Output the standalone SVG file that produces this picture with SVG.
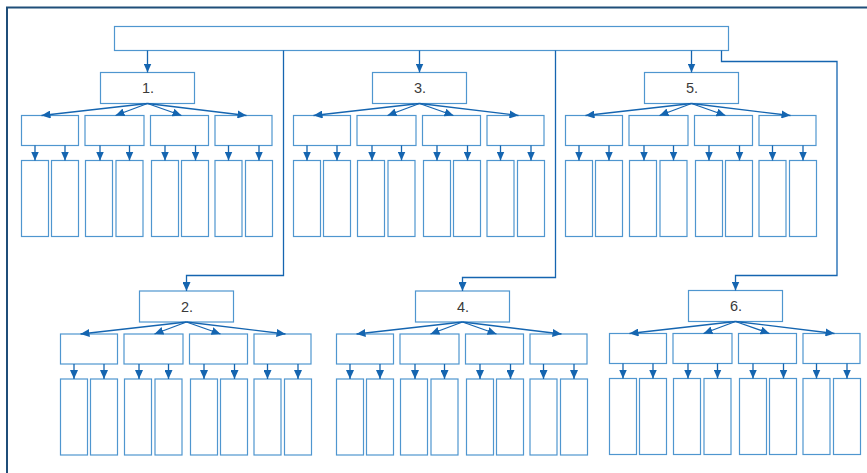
<svg xmlns="http://www.w3.org/2000/svg" width="867" height="473" viewBox="0 0 867 473">
<defs>
<style>
.node rect{fill:#fff;stroke:#4f96cf;stroke-width:1.2}
.node text{font-family:"Liberation Sans",Arial,sans-serif;font-size:14.5px;fill:#3a3a3a;text-anchor:middle}
.conn path{fill:none;stroke:#1565b0;stroke-width:1.3}
.arr{marker-end:url(#ah)}
</style>
<marker id="ah" viewBox="0 0 9 8" refX="9" refY="4" markerWidth="9" markerHeight="8" markerUnits="userSpaceOnUse" orient="auto"><path d="M0,0 L9,4 L0,8 z" fill="#1565b0"/></marker>
</defs>
<rect width="867" height="473" fill="#fff"/>
<path d="M7,473 V7.5 H867" fill="none" stroke="#1f4e79" stroke-width="2"/>

<g id="nodes">
<g id="root" class="node"><rect x="114.5" y="26.5" width="614" height="24"/></g>

<g id="tree1" transform="translate(0,0)">
<g id="t1-head" class="node"><rect x="100.5" y="72.5" width="94" height="31"/><text x="148" y="93">1.</text></g>
<g id="t1-a" class="node"><rect x="21.5" y="115.5" width="57" height="30"/></g>
<g id="t1-b" class="node"><rect x="85" y="115.5" width="59" height="30"/></g>
<g id="t1-c" class="node"><rect x="150.5" y="115.5" width="58" height="30"/></g>
<g id="t1-d" class="node"><rect x="215" y="115.5" width="57" height="30"/></g>
<g id="t1-a1" class="node"><rect x="21.5" y="160.5" width="27" height="76"/></g>
<g id="t1-a2" class="node"><rect x="51.5" y="160.5" width="27" height="76"/></g>
<g id="t1-b1" class="node"><rect x="85.5" y="160.5" width="27" height="76"/></g>
<g id="t1-b2" class="node"><rect x="116" y="160.5" width="27" height="76"/></g>
<g id="t1-c1" class="node"><rect x="151.5" y="160.5" width="27" height="76"/></g>
<g id="t1-c2" class="node"><rect x="181.5" y="160.5" width="27" height="76"/></g>
<g id="t1-d1" class="node"><rect x="215" y="160.5" width="27" height="76"/></g>
<g id="t1-d2" class="node"><rect x="245.5" y="160.5" width="27" height="76"/></g>
</g>

<g id="tree3" transform="translate(272,0)">
<g id="t3-head" class="node"><rect x="100.5" y="72.5" width="94" height="31"/><text x="148" y="93">3.</text></g>
<g id="t3-a" class="node"><rect x="21.5" y="115.5" width="57" height="30"/></g>
<g id="t3-b" class="node"><rect x="85" y="115.5" width="59" height="30"/></g>
<g id="t3-c" class="node"><rect x="150.5" y="115.5" width="58" height="30"/></g>
<g id="t3-d" class="node"><rect x="215" y="115.5" width="57" height="30"/></g>
<g id="t3-a1" class="node"><rect x="21.5" y="160.5" width="27" height="76"/></g>
<g id="t3-a2" class="node"><rect x="51.5" y="160.5" width="27" height="76"/></g>
<g id="t3-b1" class="node"><rect x="85.5" y="160.5" width="27" height="76"/></g>
<g id="t3-b2" class="node"><rect x="116" y="160.5" width="27" height="76"/></g>
<g id="t3-c1" class="node"><rect x="151.5" y="160.5" width="27" height="76"/></g>
<g id="t3-c2" class="node"><rect x="181.5" y="160.5" width="27" height="76"/></g>
<g id="t3-d1" class="node"><rect x="215" y="160.5" width="27" height="76"/></g>
<g id="t3-d2" class="node"><rect x="245.5" y="160.5" width="27" height="76"/></g>
</g>

<g id="tree5" transform="translate(544,0)">
<g id="t5-head" class="node"><rect x="100.5" y="72.5" width="94" height="31"/><text x="148" y="93">5.</text></g>
<g id="t5-a" class="node"><rect x="21.5" y="115.5" width="57" height="30"/></g>
<g id="t5-b" class="node"><rect x="85" y="115.5" width="59" height="30"/></g>
<g id="t5-c" class="node"><rect x="150.5" y="115.5" width="58" height="30"/></g>
<g id="t5-d" class="node"><rect x="215" y="115.5" width="57" height="30"/></g>
<g id="t5-a1" class="node"><rect x="21.5" y="160.5" width="27" height="76"/></g>
<g id="t5-a2" class="node"><rect x="51.5" y="160.5" width="27" height="76"/></g>
<g id="t5-b1" class="node"><rect x="85.5" y="160.5" width="27" height="76"/></g>
<g id="t5-b2" class="node"><rect x="116" y="160.5" width="27" height="76"/></g>
<g id="t5-c1" class="node"><rect x="151.5" y="160.5" width="27" height="76"/></g>
<g id="t5-c2" class="node"><rect x="181.5" y="160.5" width="27" height="76"/></g>
<g id="t5-d1" class="node"><rect x="215" y="160.5" width="27" height="76"/></g>
<g id="t5-d2" class="node"><rect x="245.5" y="160.5" width="27" height="76"/></g>
</g>

<g id="tree2" transform="translate(39,218.5)">
<g id="t2-head" class="node"><rect x="100.5" y="72.5" width="94" height="31"/><text x="148" y="93">2.</text></g>
<g id="t2-a" class="node"><rect x="21.5" y="115.5" width="57" height="30"/></g>
<g id="t2-b" class="node"><rect x="85" y="115.5" width="59" height="30"/></g>
<g id="t2-c" class="node"><rect x="150.5" y="115.5" width="58" height="30"/></g>
<g id="t2-d" class="node"><rect x="215" y="115.5" width="57" height="30"/></g>
<g id="t2-a1" class="node"><rect x="21.5" y="160.5" width="27" height="76"/></g>
<g id="t2-a2" class="node"><rect x="51.5" y="160.5" width="27" height="76"/></g>
<g id="t2-b1" class="node"><rect x="85.5" y="160.5" width="27" height="76"/></g>
<g id="t2-b2" class="node"><rect x="116" y="160.5" width="27" height="76"/></g>
<g id="t2-c1" class="node"><rect x="151.5" y="160.5" width="27" height="76"/></g>
<g id="t2-c2" class="node"><rect x="181.5" y="160.5" width="27" height="76"/></g>
<g id="t2-d1" class="node"><rect x="215" y="160.5" width="27" height="76"/></g>
<g id="t2-d2" class="node"><rect x="245.5" y="160.5" width="27" height="76"/></g>
</g>

<g id="tree4" transform="translate(315,218.5)">
<g id="t4-head" class="node"><rect x="100.5" y="72.5" width="94" height="31"/><text x="148" y="93">4.</text></g>
<g id="t4-a" class="node"><rect x="21.5" y="115.5" width="57" height="30"/></g>
<g id="t4-b" class="node"><rect x="85" y="115.5" width="59" height="30"/></g>
<g id="t4-c" class="node"><rect x="150.5" y="115.5" width="58" height="30"/></g>
<g id="t4-d" class="node"><rect x="215" y="115.5" width="57" height="30"/></g>
<g id="t4-a1" class="node"><rect x="21.5" y="160.5" width="27" height="76"/></g>
<g id="t4-a2" class="node"><rect x="51.5" y="160.5" width="27" height="76"/></g>
<g id="t4-b1" class="node"><rect x="85.5" y="160.5" width="27" height="76"/></g>
<g id="t4-b2" class="node"><rect x="116" y="160.5" width="27" height="76"/></g>
<g id="t4-c1" class="node"><rect x="151.5" y="160.5" width="27" height="76"/></g>
<g id="t4-c2" class="node"><rect x="181.5" y="160.5" width="27" height="76"/></g>
<g id="t4-d1" class="node"><rect x="215" y="160.5" width="27" height="76"/></g>
<g id="t4-d2" class="node"><rect x="245.5" y="160.5" width="27" height="76"/></g>
</g>

<g id="tree6" transform="translate(588,218)">
<g id="t6-head" class="node"><rect x="100.5" y="72.5" width="94" height="31"/><text x="148" y="93">6.</text></g>
<g id="t6-a" class="node"><rect x="21.5" y="115.5" width="57" height="30"/></g>
<g id="t6-b" class="node"><rect x="85" y="115.5" width="59" height="30"/></g>
<g id="t6-c" class="node"><rect x="150.5" y="115.5" width="58" height="30"/></g>
<g id="t6-d" class="node"><rect x="215" y="115.5" width="57" height="30"/></g>
<g id="t6-a1" class="node"><rect x="21.5" y="160.5" width="27" height="76"/></g>
<g id="t6-a2" class="node"><rect x="51.5" y="160.5" width="27" height="76"/></g>
<g id="t6-b1" class="node"><rect x="85.5" y="160.5" width="27" height="76"/></g>
<g id="t6-b2" class="node"><rect x="116" y="160.5" width="27" height="76"/></g>
<g id="t6-c1" class="node"><rect x="151.5" y="160.5" width="27" height="76"/></g>
<g id="t6-c2" class="node"><rect x="181.5" y="160.5" width="27" height="76"/></g>
<g id="t6-d1" class="node"><rect x="215" y="160.5" width="27" height="76"/></g>
<g id="t6-d2" class="node"><rect x="245.5" y="160.5" width="27" height="76"/></g>
</g>
</g>

<g id="connectors" class="conn">
<path class="arr" d="M147.5,50.5 V72.5"/>
<path class="arr" d="M283.5,50.5 V275.5 H186.5 V291"/>
<path class="arr" d="M419.5,50.5 V72.5"/>
<path class="arr" d="M555.5,50.5 V277.5 H462.5 V291"/>
<path class="arr" d="M691.5,50.5 V72.5"/>
<path class="arr" d="M721.5,50.5 V61.5 H837 V275.5 H735.5 V290.5"/>

<g id="c-tree1" transform="translate(0,0)">
<path class="arr" d="M147.5,103.5 L41.5,115.5"/><path class="arr" d="M147.5,103.5 L115.5,115.5"/><path class="arr" d="M147.5,103.5 L181.5,115.5"/><path class="arr" d="M147.5,103.5 L246.5,115.5"/>
<path class="arr" d="M35,145.5 V160.5"/><path class="arr" d="M65,145.5 V160.5"/><path class="arr" d="M100,145.5 V160.5"/><path class="arr" d="M129.5,145.5 V160.5"/><path class="arr" d="M165,145.5 V160.5"/><path class="arr" d="M195.5,145.5 V160.5"/><path class="arr" d="M228.5,145.5 V160.5"/><path class="arr" d="M259,145.5 V160.5"/>
</g>
<g id="c-tree3" transform="translate(272,0)">
<path class="arr" d="M147.5,103.5 L41.5,115.5"/><path class="arr" d="M147.5,103.5 L115.5,115.5"/><path class="arr" d="M147.5,103.5 L181.5,115.5"/><path class="arr" d="M147.5,103.5 L246.5,115.5"/>
<path class="arr" d="M35,145.5 V160.5"/><path class="arr" d="M65,145.5 V160.5"/><path class="arr" d="M100,145.5 V160.5"/><path class="arr" d="M129.5,145.5 V160.5"/><path class="arr" d="M165,145.5 V160.5"/><path class="arr" d="M195.5,145.5 V160.5"/><path class="arr" d="M228.5,145.5 V160.5"/><path class="arr" d="M259,145.5 V160.5"/>
</g>
<g id="c-tree5" transform="translate(544,0)">
<path class="arr" d="M147.5,103.5 L41.5,115.5"/><path class="arr" d="M147.5,103.5 L115.5,115.5"/><path class="arr" d="M147.5,103.5 L181.5,115.5"/><path class="arr" d="M147.5,103.5 L246.5,115.5"/>
<path class="arr" d="M35,145.5 V160.5"/><path class="arr" d="M65,145.5 V160.5"/><path class="arr" d="M100,145.5 V160.5"/><path class="arr" d="M129.5,145.5 V160.5"/><path class="arr" d="M165,145.5 V160.5"/><path class="arr" d="M195.5,145.5 V160.5"/><path class="arr" d="M228.5,145.5 V160.5"/><path class="arr" d="M259,145.5 V160.5"/>
</g>
<g id="c-tree2" transform="translate(39,218.5)">
<path class="arr" d="M147.5,103.5 L41.5,115.5"/><path class="arr" d="M147.5,103.5 L115.5,115.5"/><path class="arr" d="M147.5,103.5 L181.5,115.5"/><path class="arr" d="M147.5,103.5 L246.5,115.5"/>
<path class="arr" d="M35,145.5 V160.5"/><path class="arr" d="M65,145.5 V160.5"/><path class="arr" d="M100,145.5 V160.5"/><path class="arr" d="M129.5,145.5 V160.5"/><path class="arr" d="M165,145.5 V160.5"/><path class="arr" d="M195.5,145.5 V160.5"/><path class="arr" d="M228.5,145.5 V160.5"/><path class="arr" d="M259,145.5 V160.5"/>
</g>
<g id="c-tree4" transform="translate(315,218.5)">
<path class="arr" d="M147.5,103.5 L41.5,115.5"/><path class="arr" d="M147.5,103.5 L115.5,115.5"/><path class="arr" d="M147.5,103.5 L181.5,115.5"/><path class="arr" d="M147.5,103.5 L246.5,115.5"/>
<path class="arr" d="M35,145.5 V160.5"/><path class="arr" d="M65,145.5 V160.5"/><path class="arr" d="M100,145.5 V160.5"/><path class="arr" d="M129.5,145.5 V160.5"/><path class="arr" d="M165,145.5 V160.5"/><path class="arr" d="M195.5,145.5 V160.5"/><path class="arr" d="M228.5,145.5 V160.5"/><path class="arr" d="M259,145.5 V160.5"/>
</g>
<g id="c-tree6" transform="translate(588,218)">
<path class="arr" d="M147.5,103.5 L41.5,115.5"/><path class="arr" d="M147.5,103.5 L115.5,115.5"/><path class="arr" d="M147.5,103.5 L181.5,115.5"/><path class="arr" d="M147.5,103.5 L246.5,115.5"/>
<path class="arr" d="M35,145.5 V160.5"/><path class="arr" d="M65,145.5 V160.5"/><path class="arr" d="M100,145.5 V160.5"/><path class="arr" d="M129.5,145.5 V160.5"/><path class="arr" d="M165,145.5 V160.5"/><path class="arr" d="M195.5,145.5 V160.5"/><path class="arr" d="M228.5,145.5 V160.5"/><path class="arr" d="M259,145.5 V160.5"/>
</g>
</g>
</svg>
